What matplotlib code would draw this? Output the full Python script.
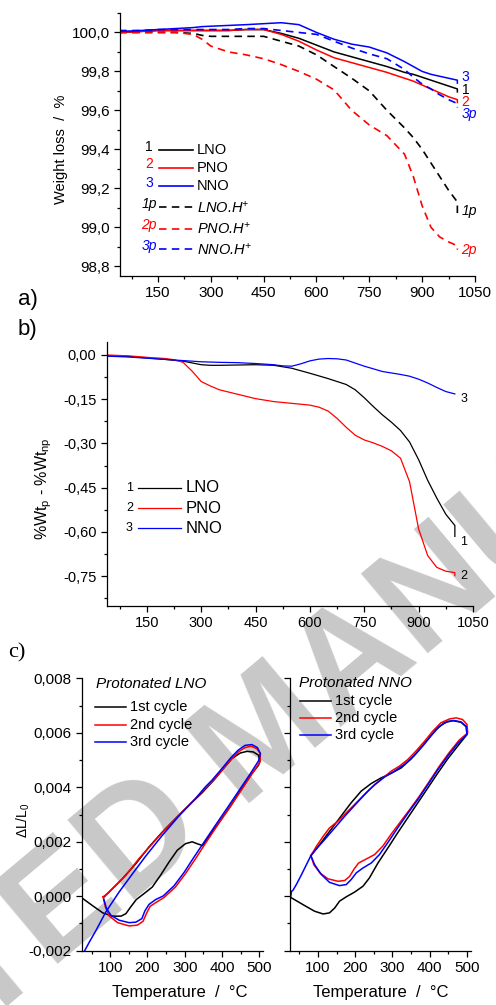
import matplotlib
matplotlib.use('Agg')
import matplotlib.pyplot as plt
from matplotlib.ticker import MultipleLocator, FuncFormatter

plt.rcParams['font.family'] = ['Liberation Sans', 'DejaVu Sans']
plt.rcParams['mathtext.default'] = 'regular'
plt.rcParams['axes.linewidth'] = 0.9

# ---- a) TGA weight loss ----
temp_a = [40, 100, 150, 200, 250, 275, 300, 350, 400, 450, 500, 550, 600, 650, 700,
          750, 800, 850, 875, 900, 925, 950, 975, 1000, 1000]
wt_lno = [100.0, 100.005, 100.01, 100.01, 100.01, 100.01, 100.01, 100.01, 100.015, 100.015,
          99.995, 99.97, 99.935, 99.9, 99.875, 99.85, 99.825, 99.795, 99.785, 99.77,
          99.755, 99.74, 99.725, 99.71, 99.695]
wt_pno = [100.0, 100.005, 100.01, 100.01, 100.01, 100.01, 100.01, 100.01, 100.015, 100.015,
          99.99, 99.955, 99.91, 99.87, 99.845, 99.82, 99.795, 99.765, 99.75, 99.73,
          99.71, 99.69, 99.67, 99.655, 99.64]
wt_nno = [100.005, 100.01, 100.015, 100.02, 100.025, 100.03, 100.032, 100.036, 100.04, 100.045,
          100.05, 100.04, 100.0, 99.965, 99.94, 99.925, 99.895, 99.85, 99.825, 99.80,
          99.785, 99.775, 99.765, 99.755, 99.74]
wt_lno_h = [100.0, 100.0, 100.0, 100.0, 99.995, 99.985, 99.98, 99.98, 99.98, 99.98,
            99.955, 99.93, 99.885, 99.825, 99.765, 99.70, 99.60, 99.51, 99.46, 99.40,
            99.33, 99.26, 99.19, 99.13, 99.07]
wt_pno_h = [100.0, 100.0, 100.0, 100.0, 99.99, 99.965, 99.93, 99.90, 99.885, 99.865,
            99.835, 99.80, 99.76, 99.705, 99.60, 99.525, 99.47, 99.375, 99.26, 99.11,
            99.00, 98.95, 98.925, 98.905, 98.885]
wt_nno_h = [100.01, 100.01, 100.015, 100.015, 100.015, 100.015, 100.015, 100.015, 100.02, 100.02,
            100.01, 100.0, 99.99, 99.955, 99.92, 99.89, 99.865, 99.81, 99.77, 99.735,
            99.71, 99.68, 99.655, 99.635, 99.615]

# ---- b) difference protonated - non protonated ----
temp_b_lno = [40, 100, 150, 200, 250, 275, 300, 325, 350, 400, 450, 500, 550, 600, 650, 700,
              725, 750, 775, 800, 825, 850, 875, 900, 925, 950, 975, 1000, 1000]
diff_lno = [-0.003, -0.005, -0.01, -0.015, -0.021, -0.027, -0.033, -0.035, -0.035, -0.034,
            -0.033, -0.035, -0.045, -0.062, -0.08, -0.10, -0.118, -0.145, -0.175, -0.203,
            -0.228, -0.256, -0.295, -0.355, -0.425, -0.485, -0.54, -0.578, -0.615]
temp_b_pno = [40, 100, 150, 200, 225, 250, 275, 300, 325, 350, 400, 450, 500, 550, 600, 625,
              650, 675, 700, 725, 750, 775, 800, 825, 850, 875, 900, 925, 950, 975, 1000, 1000]
diff_pno = [0.0, -0.003, -0.008, -0.012, -0.016, -0.025, -0.055, -0.09, -0.105, -0.118,
            -0.133, -0.148, -0.158, -0.164, -0.17, -0.177, -0.19, -0.215, -0.245, -0.272,
            -0.288, -0.298, -0.31, -0.325, -0.35, -0.43, -0.59, -0.68, -0.72, -0.733,
            -0.738, -0.748]
temp_b_nno = [40, 100, 150, 200, 250, 300, 350, 400, 450, 500, 525, 550, 575, 600, 625, 650,
              675, 700, 750, 800, 850, 875, 900, 925, 950, 975, 1000]
diff_nno = [-0.004, -0.007, -0.011, -0.015, -0.019, -0.023, -0.025, -0.026, -0.029, -0.033,
            -0.037, -0.038, -0.03, -0.02, -0.014, -0.012, -0.013, -0.017, -0.038, -0.056,
            -0.066, -0.072, -0.082, -0.095, -0.11, -0.124, -0.132]

# ---- c) dilatometry, protonated LNO ----
lno_c1_T = [28, 53, 80, 106, 129, 142, 155, 170, 191, 213, 235, 258, 280, 302, 320, 333, 348,
            364, 391, 422, 453, 480, 498, 502, 498, 484, 467, 449, 427, 404, 378, 346, 311,
            275, 240, 204, 169, 133, 106, 88, 84]
lno_c1_dL = [-0.0001, -0.00035, -0.00061, -0.00073, -0.00073, -0.00064, -0.00039, -0.00012,
             0.0001, 0.00034, 0.00077, 0.00126, 0.00169, 0.00193, 0.002, 0.00193, 0.00186,
             0.00218, 0.00269, 0.0033, 0.00395, 0.0045, 0.00481, 0.00497, 0.00518, 0.0053,
             0.00532, 0.00526, 0.00506, 0.00469, 0.00426, 0.00379, 0.00334, 0.00285, 0.00236,
             0.00181, 0.0012, 0.00065, 0.00028, 0.00004, -0.00002]
lno_c2_T = [81, 87, 97, 120, 151, 173, 188, 198, 207, 226, 244, 275, 302, 329, 355, 391, 422,
            453, 480, 502, 503, 493, 478, 462, 444, 422, 400, 373, 346, 320, 284, 249, 213,
            177, 142, 115, 93, 81]
lno_c2_dL = [-0.00002, -0.00039, -0.00072, -0.00097, -0.00109, -0.00106, -0.00092, -0.00061,
             -0.00037, -0.0002, -0.00005, 0.00034, 0.00083, 0.00138, 0.00193, 0.00267, 0.00328,
             0.00392, 0.00448, 0.00493, 0.00524, 0.00542, 0.00551, 0.00546, 0.0053, 0.00499,
             0.00463, 0.0042, 0.00383, 0.00346, 0.00297, 0.00248, 0.00193, 0.00138, 0.00077,
             0.0004, 0.0001, -0.00002]
lno_c3_T = [83, 90, 102, 124, 151, 169, 185, 193, 204, 222, 242, 271, 298, 324, 351, 384, 416,
            446, 476, 498, 503, 495, 480, 462, 443, 422, 400, 373, 355, 329, 284, 240, 195,
            160, 124, 88, 62, 44, 31]
lno_c3_dL = [-0.00012, -0.00045, -0.0007, -0.00088, -0.00097, -0.00095, -0.00082, -0.00054,
             -0.0003, -0.00012, 0.00001, 0.00038, 0.00087, 0.00142, 0.00197, 0.00264, 0.00328,
             0.00389, 0.0045, 0.00497, 0.00524, 0.00546, 0.00557, 0.00554, 0.00536, 0.00506,
             0.00469, 0.00426, 0.00401, 0.00359, 0.00294, 0.00224, 0.00147, 0.00083, 0.00016,
             -0.00058, -0.00125, -0.00168, -0.00201]

# ---- c) dilatometry, protonated NNO ----
nno_c1_T = [24, 64, 91, 114, 131, 145, 158, 176, 198, 221, 238, 261, 288, 314, 341, 368, 395,
            421, 448, 475, 500, 498, 484, 462, 439, 417, 395, 372, 350, 323, 296, 270, 243,
            216, 189, 163, 136, 109, 81]
nno_c1_dL = [-0.00002, -0.00034, -0.00055, -0.00065, -0.00061, -0.00043, -0.00018, -0.00002,
             0.00015, 0.00037, 0.00067, 0.00122, 0.00178, 0.00233, 0.00288, 0.00343, 0.00398,
             0.00451, 0.00504, 0.00551, 0.00594, 0.00622, 0.00639, 0.00645, 0.00637, 0.00612,
             0.00576, 0.00539, 0.00504, 0.00471, 0.00451, 0.00435, 0.00414, 0.00386, 0.00343,
             0.00296, 0.00247, 0.00198, 0.00149]
nno_c2_T = [81, 89, 105, 127, 154, 172, 185, 197, 209, 230, 252, 274, 296, 319, 346, 372, 399,
            426, 453, 479, 502, 500, 488, 471, 453, 430, 408, 386, 363, 341, 319, 296, 270,
            238, 207, 180, 154, 131, 114, 96, 81]
nno_c2_dL = [0.00149, 0.00116, 0.00086, 0.00064, 0.00055, 0.00058, 0.00073, 0.001, 0.00122,
             0.00137, 0.00153, 0.00184, 0.00227, 0.00269, 0.00318, 0.00367, 0.00422, 0.00478,
             0.00529, 0.00573, 0.006, 0.00631, 0.00649, 0.00655, 0.00651, 0.00637, 0.00606,
             0.00569, 0.00533, 0.00502, 0.00478, 0.00459, 0.00429, 0.00392, 0.00349, 0.00312,
             0.00276, 0.00251, 0.0022, 0.00184, 0.00149]
nno_c3_T = [27, 29, 33, 42, 56, 69, 81, 91, 109, 131, 158, 176, 189, 203, 221, 243, 265, 288,
            314, 341, 368, 395, 421, 448, 475, 500, 498, 484, 466, 448, 426, 404, 381, 359,
            332, 305, 279, 252, 225, 198, 172, 145, 118, 96, 81]
nno_c3_dL = [0.0, 0.00018, 0.00022, 0.00043, 0.0008, 0.00116, 0.00149, 0.00116, 0.0008,
             0.00051, 0.00039, 0.00043, 0.00061, 0.00086, 0.00104, 0.00122, 0.00153, 0.00198,
             0.00251, 0.00304, 0.00355, 0.0041, 0.00463, 0.00514, 0.00561, 0.00594, 0.00624,
             0.0064, 0.00645, 0.00642, 0.00624, 0.0059, 0.00551, 0.00517, 0.00484, 0.00459,
             0.00438, 0.0041, 0.00373, 0.00333, 0.00294, 0.00251, 0.00208, 0.00174, 0.00149]

compounds = ['LNO', 'PNO', 'NNO']
colors = ['black', 'red', 'blue']
cycles = ['1st cycle', '2nd cycle', '3rd cycle']


def comma(fmt):
    return FuncFormatter(lambda v, p: (fmt % (0.0 if abs(v) < 1e-9 else v)).replace('.', ','))


def style(ax, size=11):
    ax.spines['top'].set_visible(False)
    ax.spines['right'].set_visible(False)
    ax.set_facecolor('none')
    ax.tick_params(which='major', direction='out', length=4, width=0.9, labelsize=size)
    ax.tick_params(which='minor', direction='out', length=2.5, width=0.9)


fig = plt.figure(figsize=(4.96, 10.05), dpi=100)

fig.text(0.54, 0.267, 'ACCEPTED MANUSCRIPT', rotation=40, rotation_mode='anchor',
         ha='center', va='center', fontsize=108, fontweight='bold',
         color='#c8c8c8', zorder=-5)

# ---------------- panel a ----------------
ax = fig.add_axes([0.2419, 0.7254, 0.7157, 0.2617])
style(ax)
solid = [wt_lno, wt_pno, wt_nno]
dashed = [wt_lno_h, wt_pno_h, wt_nno_h]
for i in range(3):
    ax.plot(temp_a, solid[i], color=colors[i], lw=1.1)
for i in range(3):
    ax.plot(temp_a, dashed[i], color=colors[i], lw=1.2, ls=(0, (4.5, 3.2)))
solid_off = [-0.5, -1.5, 2.5]
dashed_off = [2, 0, -5]
for i in range(3):
    ax.annotate(str(i + 1), (1000, solid[i][-2]), xytext=(3, solid_off[i]),
                textcoords='offset points', color=colors[i], fontsize=10, va='center')
    ax.annotate('%dp' % (i + 1), (1000, dashed[i][-1]), xytext=(3, dashed_off[i]),
                textcoords='offset points', color=colors[i], fontsize=10,
                style='italic', va='center')
ax.set_xlim(42, 1050)
ax.set_ylim(98.75, 100.1)
ax.xaxis.set_major_locator(MultipleLocator(150))
ax.xaxis.set_minor_locator(MultipleLocator(75))
ax.yaxis.set_major_locator(MultipleLocator(0.2))
ax.yaxis.set_minor_locator(MultipleLocator(0.1))
ax.yaxis.set_major_formatter(comma('%.1f'))
ax.set_ylabel('Weight loss  /  %', fontsize=10.5)
ax.yaxis.set_label_coords(-0.147, 0.48)

# legend drawn by hand, numbers coloured like the curves
rows = [0.479, 0.412, 0.343, 0.261, 0.180, 0.101]
for i in range(6):
    c = colors[i % 3]
    ls = '-' if i < 3 else (0, (4.5, 3.2))
    ax.plot([0.110, 0.206], [rows[i], rows[i]], transform=ax.transAxes, color=c, lw=1.2, ls=ls)
    num = str(i % 3 + 1) + ('' if i < 3 else 'p')
    st = 'normal' if i < 3 else 'italic'
    ax.text(0.082, rows[i] + 0.012, num, transform=ax.transAxes, color=c, fontsize=10,
            style=st, ha='center', va='center')
    lab = compounds[i % 3] + ('' if i < 3 else '.H$^{+}$')
    ax.text(0.217, rows[i], lab, transform=ax.transAxes, color='black', fontsize=10.5,
            style=st, va='center')

fig.text(18 / 496, 1 - 300 / 1005, 'a)', fontsize=16, va='center')

# ---------------- panel b ----------------
ax = fig.add_axes([0.2157, 0.3973, 0.7379, 0.2627])
style(ax, 10.5)
temps_b = [temp_b_lno, temp_b_pno, temp_b_nno]
diffs_b = [diff_lno, diff_pno, diff_nno]
for i in range(3):
    ax.plot(temps_b[i], diffs_b[i], color=colors[i], lw=0.9)
b_off = [-4, 0, -4]
for i in range(3):
    ax.annotate(str(i + 1), (1000, diffs_b[i][-1]), xytext=(4, b_off[i]),
                textcoords='offset points', color='black', fontsize=9, va='center')
ax.set_xlim(40, 1050)
ax.set_ylim(-0.85, 0.045)
ax.xaxis.set_major_locator(MultipleLocator(150))
ax.xaxis.set_minor_locator(MultipleLocator(75))
ax.yaxis.set_major_locator(MultipleLocator(0.15))
ax.yaxis.set_minor_locator(MultipleLocator(0.075))
ax.yaxis.set_major_formatter(comma('%.2f'))
ax.set_ylabel('%Wt$_p$ - %Wt$_{np}$', fontsize=11.5)
ax.yaxis.set_label_coords(-0.145, 0.444)
rows_b = [0.447, 0.369, 0.293]
for i in range(3):
    ax.plot([0.084, 0.202], [rows_b[i], rows_b[i]], transform=ax.transAxes, color=colors[i], lw=0.9)
    ax.text(0.061, rows_b[i], str(i + 1), transform=ax.transAxes, fontsize=9,
            ha='center', va='center')
    ax.text(0.215, rows_b[i], compounds[i], transform=ax.transAxes, fontsize=12, va='center')

fig.text(18 / 496, 1 - 329 / 1005, 'b)', fontsize=16, va='center')

# ---------------- panel c ----------------
fig.text(8 / 496, 1 - 653 / 1005, 'c)', fontsize=16, va='center', family='Liberation Serif')

dil = [
    ('Protonated LNO', [lno_c1_T, lno_c2_T, lno_c3_T], [lno_c1_dL, lno_c2_dL, lno_c3_dL],
     0.1659, 0.54, (0.076, 0.979), [0.894, 0.830, 0.765], (0.070, 0.242, 0.264)),
    ('Protonated NNO', [nno_c1_T, nno_c2_T, nno_c3_T], [nno_c1_dL, nno_c2_dL, nno_c3_dL],
     0.5847, 0.5, (0.05, 0.983), [0.917, 0.853, 0.791], (0.056, 0.228, 0.25)),
]
for k, (title, Ts, dLs, left, xlab, tpos, lrows, lx) in enumerate(dil):
    ax = fig.add_axes([left, 0.054, 0.3643, 0.2710])
    style(ax, 11)
    for i in range(3):
        ax.plot(Ts[i], dLs[i], color=colors[i], lw=1.1)
    ax.set_xlim(25, 510)
    ax.set_ylim(-0.002, 0.008)
    ax.xaxis.set_major_locator(MultipleLocator(100))
    ax.xaxis.set_minor_locator(MultipleLocator(50))
    ax.yaxis.set_major_locator(MultipleLocator(0.002))
    ax.yaxis.set_minor_locator(MultipleLocator(0.001))
    ax.yaxis.set_major_formatter(comma('%.3f'))
    if k == 1:
        ax.tick_params(labelleft=False)
    else:
        ax.set_ylabel(r'$\Delta$L/L$_0$', fontsize=10)
        ax.yaxis.set_label_coords(-0.28, 0.48)
    ax.set_xlabel('Temperature  /  \u00b0C', fontsize=12)
    ax.xaxis.set_label_coords(xlab, -0.124)
    ax.text(tpos[0], tpos[1], title, transform=ax.transAxes, fontsize=11,
            style='italic', va='center')
    for i in range(3):
        ax.plot([lx[0], lx[1]], [lrows[i], lrows[i]], transform=ax.transAxes,
                color=colors[i], lw=1.1)
        ax.text(lx[2], lrows[i], cycles[i], transform=ax.transAxes, fontsize=10.5, va='center')

fig.savefig('out.png', dpi=100)
